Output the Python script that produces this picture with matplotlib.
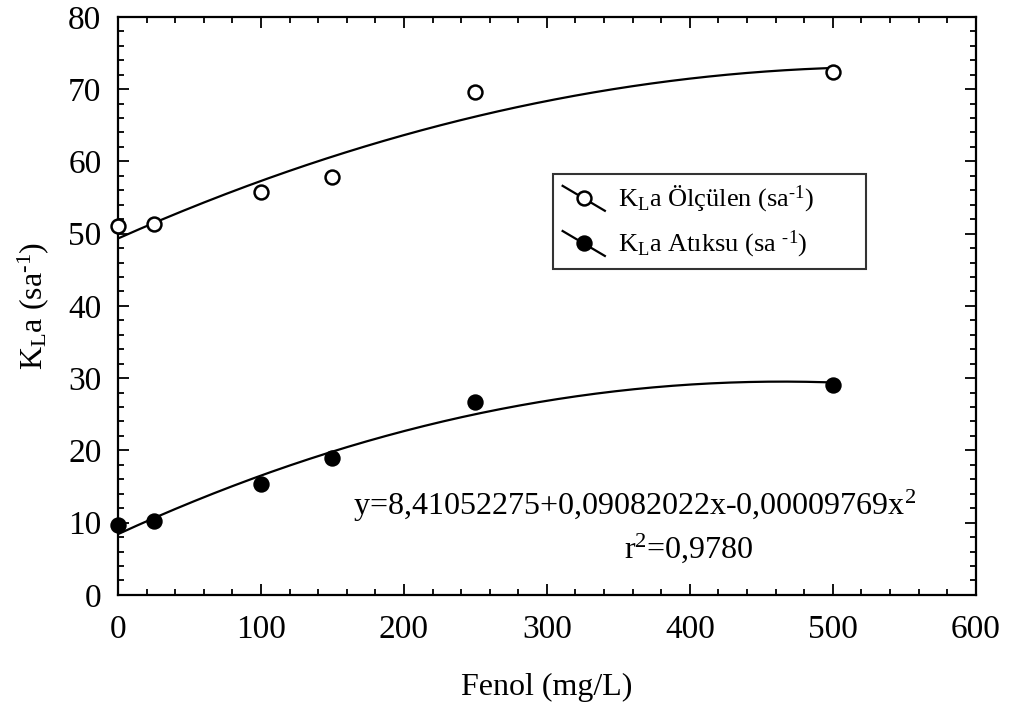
import numpy as np
import matplotlib
matplotlib.use("Agg")
import matplotlib.pyplot as plt
from matplotlib.lines import Line2D
from matplotlib.legend_handler import HandlerLine2D
from matplotlib.ticker import MultipleLocator

plt.rcParams["font.family"] = ["Liberation Serif", "DejaVu Serif"]
plt.rcParams["mathtext.fontset"] = "custom"
plt.rcParams["mathtext.rm"] = "Liberation Serif"
plt.rcParams["mathtext.it"] = "Liberation Serif:italic"

# Phenol concentration (mg/L)
fenol = [0, 25, 100, 150, 250, 500]
# Measured KLa (1/h)
kla_olculen = [51.0, 51.3, 55.8, 57.8, 69.6, 72.4]
# KLa in wastewater (1/h)
kla_atiksu = [9.7, 10.2, 15.3, 18.9, 26.7, 29.1]

# Quadratic fit reported for the wastewater series
fit_c0, fit_c1, fit_c2 = 8.41052275, 0.09082022, -0.00009769
fit_r2 = "0,9780"

x_ticks = [0, 100, 200, 300, 400, 500, 600]
y_ticks = [0, 10, 20, 30, 40, 50, 60, 70, 80]

HY = "\u2010"  # short hyphen for the superscript exponent


class SlantedHandler(HandlerLine2D):
    """Legend key drawn as a descending diagonal stroke with the marker in the middle."""

    def create_artists(self, legend, orig_handle, xdescent, ydescent,
                       width, height, fontsize, trans):
        x0, x1 = -xdescent, -xdescent + width
        y0, y1 = -ydescent + height * 1.1, -ydescent - height * 0.25
        line = Line2D([x0, x1], [y0, y1], color="black", lw=1.6)
        line.set_transform(trans)
        mk = Line2D([(x0 + x1) / 2], [(y0 + y1) / 2], linestyle="none",
                    marker="o", markersize=orig_handle.get_markersize(),
                    markerfacecolor=orig_handle.get_markerfacecolor(),
                    markeredgecolor="black",
                    markeredgewidth=orig_handle.get_markeredgewidth())
        mk.set_transform(trans)
        return [line, mk]


fig = plt.figure(figsize=(10.09, 7.04), dpi=100)
ax = fig.add_axes([0.117, 0.155, 0.850, 0.821])

xs = np.linspace(0, 500, 300)

# Regression curve for the measured series
p_top = np.polyfit(fenol, kla_olculen, 2)
ax.plot(xs, np.polyval(p_top, xs), color="black", lw=1.6, zorder=2)
# Regression curve for the wastewater series
ax.plot(xs, fit_c0 + fit_c1 * xs + fit_c2 * xs ** 2, color="black", lw=1.6, zorder=2)

h1, = ax.plot(fenol, kla_olculen, linestyle="none", marker="o", markersize=10,
              markerfacecolor="white", markeredgecolor="black",
              markeredgewidth=1.8, clip_on=False, zorder=3)
h2, = ax.plot(fenol, kla_atiksu, linestyle="none", marker="o", markersize=10,
              markerfacecolor="black", markeredgecolor="black",
              markeredgewidth=1.8, clip_on=False, zorder=3)

ax.set_xlim(0, 600)
ax.set_ylim(0, 80)
ax.set_xticks(x_ticks)
ax.set_yticks(y_ticks)
ax.xaxis.set_minor_locator(MultipleLocator(20))
ax.yaxis.set_minor_locator(MultipleLocator(2))
ax.tick_params(which="both", direction="in", top=True, right=True,
               width=1.3, labelsize=24)
ax.tick_params(which="major", length=8)
ax.tick_params(axis="x", which="major", pad=14)
ax.tick_params(axis="y", which="major", pad=12)
ax.tick_params(which="minor", length=4)
for s in ax.spines.values():
    s.set_linewidth(1.6)

ax.set_xlabel("Fenol (mg/L)", fontsize=23, labelpad=20)
ax.set_ylabel(r"K$_{\rm L}$a (sa$^{\rm " + HY + "1}$)", fontsize=23, labelpad=12)

leg = ax.legend([h1, h2],
                [r"K$_{\rm L}$a Ölçülen (sa$^{\rm " + HY + "1}$)",
                 r"K$_{\rm L}$a Atıksu (sa $^{\rm " + HY + "1}$)"],
                handler_map={Line2D: SlantedHandler()},
                loc="upper left", bbox_to_anchor=(0.5076, 0.559, 0.364, 0.169),
                mode="expand",
                fontsize=19, frameon=True, fancybox=False,
                handlelength=1.6, handletextpad=0.5, borderpad=0.35,
                labelspacing=0.55, borderaxespad=0)
leg.get_frame().set_edgecolor("black")
leg.get_frame().set_linewidth(1.5)

eq = r"y=8,41052275+0,09082022x-0,00009769x$^{\rm 2}$"
ax.text(361, 12.3, eq, fontsize=23, ha="center", va="center")
ax.text(399, 6.4, r"r$^{\rm 2}$=" + fit_r2, fontsize=23, ha="center", va="center")

fig.savefig("out.png", dpi=100)
